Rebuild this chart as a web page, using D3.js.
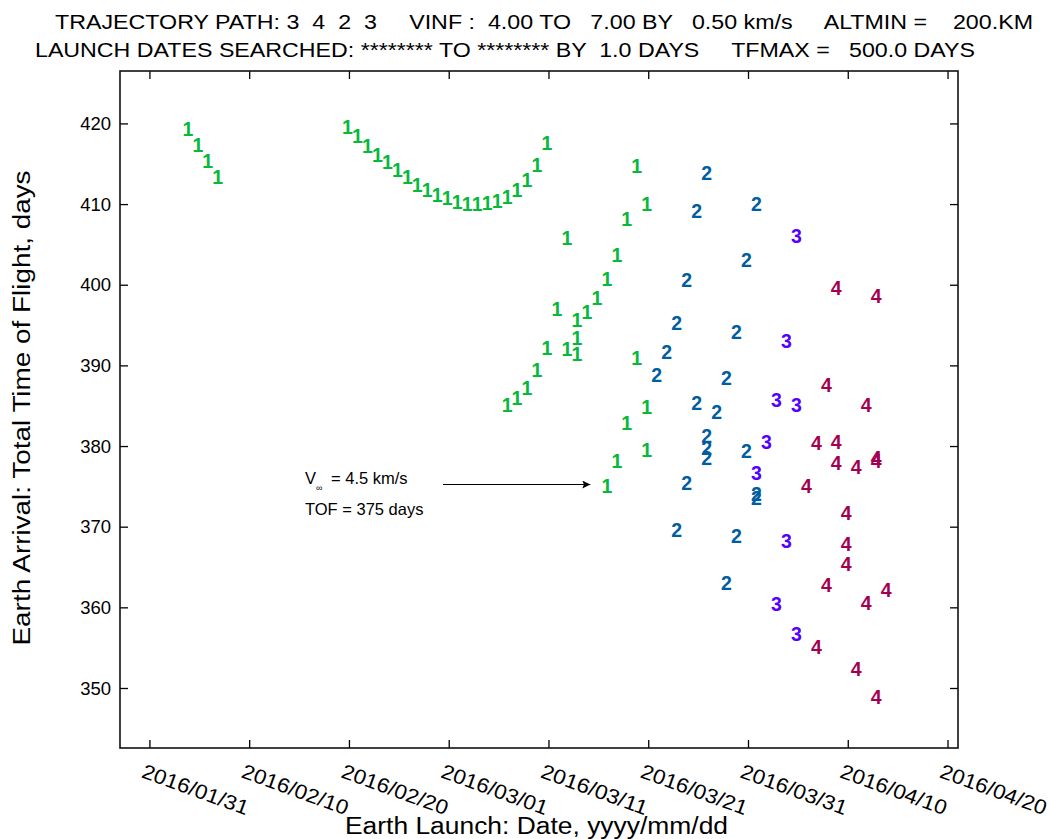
<!DOCTYPE html>
<html>
<head>
<meta charset="utf-8">
<script src="https://cdn.jsdelivr.net/npm/d3@7"></script>
<style>
  html, body { margin: 0; padding: 0; background: #fff; }
  svg { display: block; font-family: "Liberation Sans", Arial, sans-serif; }
</style>
</head>
<body>
<svg id="chart" width="1050" height="839"></svg>
<script>
// ---------- data ----------
const titleLines = [
  "TRAJECTORY PATH: 3  4  2  3     VINF :  4.00 TO   7.00 BY   0.50 km/s     ALTMIN =    200.KM",
  "LAUNCH DATES SEARCHED: ******** TO ******** BY  1.0 DAYS     TFMAX =   500.0 DAYS"
];
const xTickLabels = ["2016/01/31","2016/02/10","2016/02/20","2016/03/01","2016/03/11","2016/03/21","2016/03/31","2016/04/10","2016/04/20"];
const yTickValues = [350, 360, 370, 380, 390, 400, 410, 420];

const seriesLabels = ["1", "2", "3", "4"];
const seriesColors = ["#08b83a", "#005da0", "#5500ff", "#a3004f"];

// launch dates (yyyy-mm-dd) and total time of flight (days), per series
const s1Dates = [
  "2016-02-04","2016-02-05","2016-02-06","2016-02-07",
  "2016-02-20","2016-02-21","2016-02-22","2016-02-23","2016-02-24","2016-02-25","2016-02-26","2016-02-27",
  "2016-02-28","2016-02-29","2016-03-01","2016-03-02","2016-03-03","2016-03-04","2016-03-05","2016-03-06",
  "2016-03-07","2016-03-08","2016-03-09","2016-03-10","2016-03-11",
  "2016-03-07","2016-03-08","2016-03-09","2016-03-10","2016-03-11","2016-03-12","2016-03-13","2016-03-13",
  "2016-03-14","2016-03-14","2016-03-14","2016-03-15","2016-03-16","2016-03-17","2016-03-17",
  "2016-03-18","2016-03-18","2016-03-19","2016-03-19","2016-03-20","2016-03-20",
  "2016-03-21","2016-03-21","2016-03-21"
];
const s1Tof = [
  419.3, 417.3, 415.3, 413.4,
  419.5, 418.4, 417.25, 416.1, 415.2, 414.25, 413.3, 412.4,
  411.75, 411.1, 410.8, 410.3, 410.0, 410.0, 410.1, 410.4,
  410.9, 411.75, 413.0, 414.9, 417.6,
  385.1, 386.0, 387.25, 389.4, 392.1, 397.0, 405.75, 392.0,
  395.6, 393.4, 391.4, 396.6, 398.4, 400.75, 375.1,
  403.75, 378.1, 408.1, 382.9, 414.75, 390.9,
  410.0, 384.9, 379.5
];
const s2Dates = [
  "2016-03-22","2016-03-23","2016-03-24","2016-03-24","2016-03-25","2016-03-25","2016-03-26","2016-03-26",
  "2016-03-27","2016-03-27","2016-03-27","2016-03-27","2016-03-28","2016-03-29","2016-03-29",
  "2016-03-30","2016-03-30","2016-03-31","2016-03-31","2016-04-01","2016-04-01","2016-04-01"
];
const s2Tof = [
  388.75, 391.6, 395.25, 369.6, 400.6, 375.4, 409.1, 385.4,
  413.9, 381.25, 379.75, 378.5, 384.25, 388.5, 363.0,
  394.1, 368.9, 403.1, 379.4, 410.0, 374.1, 373.5
];
const s3Dates = [
  "2016-04-01","2016-04-02","2016-04-03","2016-04-03","2016-04-04","2016-04-04","2016-04-05","2016-04-05","2016-04-05"
];
const s3Tof = [376.6, 380.5, 385.75, 360.4, 393.0, 368.25, 406.0, 385.1, 356.75];
const s4Dates = [
  "2016-04-06","2016-04-07","2016-04-07","2016-04-08","2016-04-08","2016-04-09","2016-04-09","2016-04-09",
  "2016-04-10","2016-04-10","2016-04-10","2016-04-11","2016-04-11","2016-04-12","2016-04-12",
  "2016-04-13","2016-04-13","2016-04-13","2016-04-13","2016-04-14"
];
const s4Tof = [
  375.1, 380.4, 355.1, 387.6, 362.75, 399.6, 380.5, 377.9,
  371.75, 367.9, 365.4, 377.4, 352.4, 385.1, 360.6,
  398.6, 378.5, 378.1, 348.9, 362.1
];

// annotated point
const noteDate = "2016-03-17";
const noteTof = 375.1;
const noteLines = ["= 4.5 km/s", "TOF = 375 days"];

// ---------- layout ----------
const svg = d3.select("#chart");
const M = { left: 120, right: 958, top: 71, bottom: 748 };
const parse = d3.utcParse("%Y-%m-%d");
const DAY = 864e5;
const t0 = Date.UTC(2016, 0, 31);

const x = d3.scaleUtc()
  .domain([new Date(t0 - 2.95 * DAY), new Date(t0 + 81.05 * DAY)])
  .range([M.left, M.right]);
const y = d3.scaleLinear()
  .domain([342.56, 426.5])
  .range([M.bottom, M.top]);

const xTicks = xTickLabels.map(s => d3.utcParse("%Y/%m/%d")(s));
const fmt = d3.utcFormat("%Y/%m/%d");

// title
svg.selectAll("text.title").data(titleLines).join("text")
  .attr("class", "title")
  .attr("x", (d, i) => i === 0 ? 55 : 35)
  .attr("y", (d, i) => i === 0 ? 29 : 57)
  .attr("textLength", (d, i) => i === 0 ? 978 : 940)
  .attr("lengthAdjust", "spacingAndGlyphs")
  .style("white-space", "pre")
  .attr("font-size", 20)
  .attr("fill", "#000")
  .text(d => d);

// axes (inward ticks on all four sides)
const TL = 8;
const gB = svg.append("g").attr("transform", `translate(0,${M.bottom})`)
  .call(d3.axisBottom(x).tickValues(xTicks).tickSize(-TL).tickFormat(""));
const gT = svg.append("g").attr("transform", `translate(0,${M.top})`)
  .call(d3.axisTop(x).tickValues(xTicks).tickSize(-TL).tickFormat(""));
const gL = svg.append("g").attr("transform", `translate(${M.left},0)`)
  .call(d3.axisLeft(y).tickValues(yTickValues).tickSize(-TL).tickFormat(""));
const gR = svg.append("g").attr("transform", `translate(${M.right},0)`)
  .call(d3.axisRight(y).tickValues(yTickValues).tickSize(-TL).tickFormat(""));
[gB, gT, gL, gR].forEach(g => {
  g.select(".domain").remove();
  g.selectAll(".tick line").attr("stroke", "#000").attr("stroke-width", 1.3);
});

// frame
svg.append("rect")
  .attr("x", M.left).attr("y", M.top)
  .attr("width", M.right - M.left).attr("height", M.bottom - M.top)
  .attr("fill", "none").attr("stroke", "#111").attr("stroke-width", 1.6);

// y tick labels
svg.selectAll("text.ylab").data(yTickValues).join("text")
  .attr("class", "ylab")
  .attr("x", M.left - 9)
  .attr("y", d => y(d))
  .attr("dy", "0.36em")
  .attr("text-anchor", "end")
  .attr("font-size", 18.5)
  .text(d => d);

// x tick labels (rotated)
svg.selectAll("text.xlab").data(xTicks).join("text")
  .attr("class", "xlab")
  .attr("transform", d => `translate(${x(d) - 9},777) rotate(20)`)
  .attr("font-size", 20.5)
  .attr("textLength", 112)
  .attr("lengthAdjust", "spacingAndGlyphs")
  .text(d => fmt(d));

// axis titles
svg.append("text")
  .attr("x", 345).attr("y", 834)
  .attr("font-size", 23.5)
  .attr("textLength", 383)
  .attr("lengthAdjust", "spacingAndGlyphs")
  .text("Earth Launch: Date, yyyy/mm/dd");
svg.append("text")
  .attr("transform", "translate(30,408) rotate(-90)")
  .attr("text-anchor", "middle")
  .attr("font-size", 23.5)
  .attr("textLength", 475)
  .attr("lengthAdjust", "spacingAndGlyphs")
  .text("Earth Arrival: Total Time of Flight, days");

// points as digit markers
const series = [
  { label: seriesLabels[0], color: seriesColors[0], dates: s1Dates, tof: s1Tof },
  { label: seriesLabels[1], color: seriesColors[1], dates: s2Dates, tof: s2Tof },
  { label: seriesLabels[2], color: seriesColors[2], dates: s3Dates, tof: s3Tof },
  { label: seriesLabels[3], color: seriesColors[3], dates: s4Dates, tof: s4Tof }
];
series.forEach(s => {
  const pts = s.dates.map((d, i) => ({ date: parse(d), tof: s.tof[i] }));
  svg.append("g").selectAll("text").data(pts).join("text")
    .attr("x", d => x(d.date) - 1.5)
    .attr("y", d => y(d.tof))
    .attr("dy", "0.36em")
    .attr("text-anchor", "middle")
    .attr("font-size", 19.5)
    .attr("font-weight", "bold")
    .attr("fill", s.color)
    .text(s.label);
});

// annotation
const ax = x(parse(noteDate)), ay = y(noteTof);
const noteX = 305;
const v = svg.append("text").attr("x", noteX).attr("y", ay - 1.5).attr("font-size", 16.5);
v.append("tspan").text("V");
v.append("tspan").attr("font-size", 9).attr("dy", 7).text("\u221E");
v.append("tspan").attr("dx", 4).attr("dy", -7).text(" " + noteLines[0]);
svg.append("text").attr("x", noteX).attr("y", ay + 29).attr("font-size", 16.5).text(noteLines[1]);

svg.append("defs").append("marker")
  .attr("id", "ah").attr("viewBox", "0 0 10 10")
  .attr("refX", 10).attr("refY", 5)
  .attr("markerWidth", 16).attr("markerHeight", 8)
  .attr("markerUnits", "userSpaceOnUse")
  .attr("orient", "auto")
  .append("path").attr("d", "M0,0 L10,5 L0,10 L2,5 Z").attr("fill", "#000");
svg.append("line")
  .attr("x1", 443).attr("y1", ay - 1)
  .attr("x2", ax - 18).attr("y2", ay - 1)
  .attr("stroke", "#000").attr("stroke-width", 1.1)
  .attr("marker-end", "url(#ah)");
</script>
</body>
</html>
